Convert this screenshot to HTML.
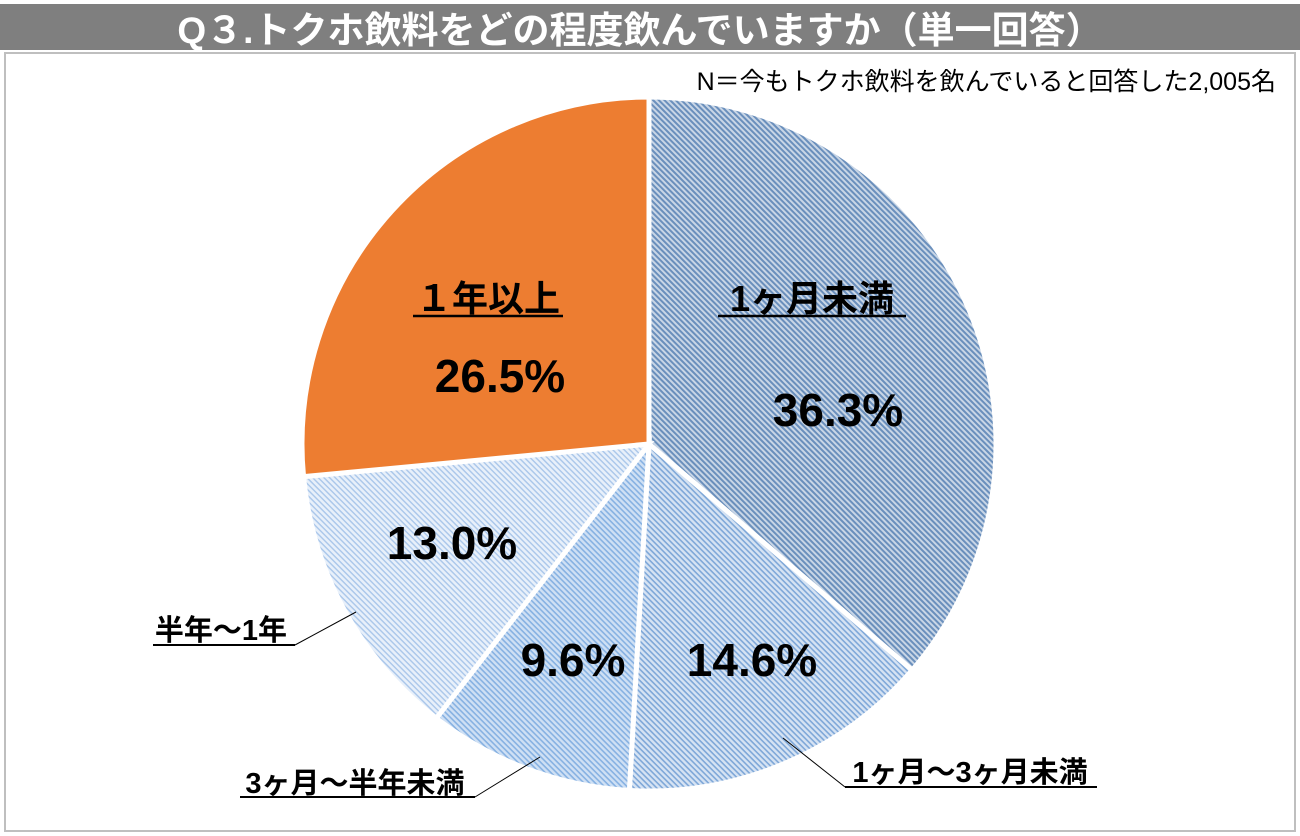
<!DOCTYPE html>
<html><head><meta charset="utf-8"><style>
body{margin:0;background:#fff;width:1300px;height:836px;overflow:hidden;font-family:"Liberation Sans","Noto Sans CJK JP",sans-serif}
</style></head><body>
<svg width="1300" height="836" viewBox="0 0 1300 836" style="position:absolute;left:0;top:0">
<defs>
<pattern id="p0" width="4" height="4" patternUnits="userSpaceOnUse" patternTransform="rotate(45)"><rect width="4" height="4" fill="#c9d6e6"/><rect width="4" height="2" fill="#6a8fbc"/></pattern>
<pattern id="p1" width="4" height="4" patternUnits="userSpaceOnUse" patternTransform="rotate(45)"><rect width="4" height="4" fill="#d6e3f3"/><rect width="4" height="1.6" fill="#7ea7d8"/></pattern>
<pattern id="p2" width="4" height="4" patternUnits="userSpaceOnUse" patternTransform="rotate(45)"><rect width="4" height="4" fill="#cfe0f4"/><rect width="4" height="1.6" fill="#86b1e2"/></pattern>
<pattern id="p3" width="4" height="4" patternUnits="userSpaceOnUse" patternTransform="rotate(45)"><rect width="4" height="4" fill="#e8f0fa"/><rect width="4" height="1.4" fill="#a9c6ea"/></pattern>
</defs>
<rect x="0" y="4" width="1300" height="46" fill="#7f7f7f"/>
<text x="640" y="43" text-anchor="middle" font-size="37" font-weight="bold" fill="#fff">Q３.トクホ飲料をどの程度飲んでいますか（単一回答）</text>
<rect x="5" y="53" width="1290" height="778" fill="none" stroke="#bfbfbf" stroke-width="2"/>
<text x="1276" y="90" text-anchor="end" font-size="25" fill="#000">N＝今もトクホ飲料を飲んでいると回答した2,005名</text>
<g id="slices"></g>
<g id="labels" font-weight="bold" fill="#000"></g>
</svg>
<script>
const categories=["1ヶ月未満","1ヶ月～3ヶ月未満","3ヶ月～半年未満","半年～1年","１年以上"];
const values=[36.3,14.6,9.6,13.0,26.5];
const valueLabels=["36.3%","14.6%","9.6%","13.0%","26.5%"];
const fills=["url(#p0)","url(#p1)","url(#p2)","url(#p3)","#ed7d31"];
const cx=649,cy=444,R=347;
const NS="http://www.w3.org/2000/svg";
const g=document.getElementById('slices');
const total=values.reduce((a,b)=>a+b,0);
function pt(a,r){return [cx+r*Math.sin(a),cy-r*Math.cos(a)];}
let a0=0;
values.forEach((v,i)=>{
  const a1=a0+v/total*2*Math.PI;
  const [x0,y0]=pt(a0,R),[x1,y1]=pt(a1,R);
  const p=document.createElementNS(NS,'path');
  p.setAttribute('d',`M${cx},${cy}L${x0},${y0}A${R},${R} 0 ${a1-a0>Math.PI?1:0} 1 ${x1},${y1}Z`);
  p.setAttribute('fill',fills[i]);p.setAttribute('stroke','#fff');p.setAttribute('stroke-width','5');
  
  
  g.appendChild(p);
  a0=a1;
});
const L=document.getElementById('labels');
function txt(s,x,y,size,name,anchor){
  const t=document.createElementNS(NS,'text');
  t.setAttribute('x',x);t.setAttribute('y',y);t.setAttribute('font-size',size);
  t.setAttribute('text-anchor',anchor||'middle');t.textContent=s;
  
  
  L.appendChild(t);
}
function line(x1,y1,x2,y2,w,name){
  const l=document.createElementNS(NS,'line');
  l.setAttribute('x1',x1);l.setAttribute('y1',y1);l.setAttribute('x2',x2);l.setAttribute('y2',y2);
  l.setAttribute('stroke','#000');l.setAttribute('stroke-width',w);
  
  
  L.appendChild(l);
}
const lp=[[838,426],[752,676],[573,676],[452,559],[500,392]];
valueLabels.forEach((s,i)=>{ txt(s,lp[i][0],lp[i][1],46,'value-label-'+i); });
txt(categories[0],812,311,36,'category-label-0');line(718,316,906,316,2.5,'category-underline-0');
txt(categories[4],488,311,36,'category-label-4');line(413,316,563,316,2.5,'category-underline-4');
txt(categories[3],221,640,29,'category-label-3');line(153,645,295,645,2,'category-underline-3');line(295,645,356,612,1,'leader-3');
txt(categories[2],355,793,29,'category-label-2');line(240,797,475,797,2,'category-underline-2');line(475,797,540,757,1,'leader-2');
txt(categories[1],970,782,29,'category-label-1');line(845,787,1097,787,2,'category-underline-1');line(845,787,783,738,1,'leader-1');
</script>
</body></html>
